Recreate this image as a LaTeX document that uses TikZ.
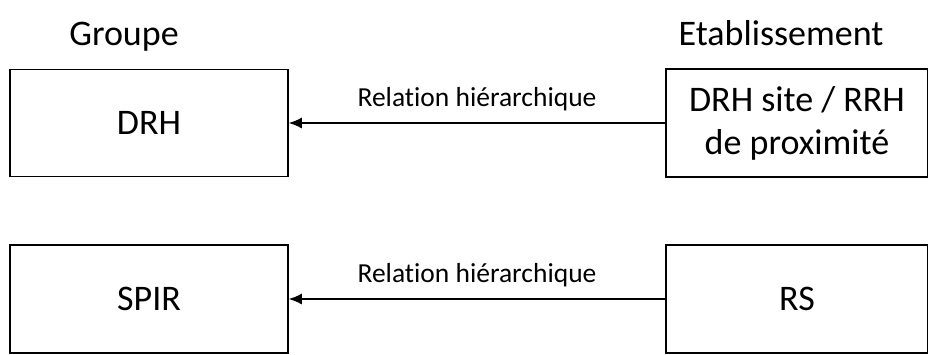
\documentclass[tikz,border=0pt]{standalone}
\usepackage{fontspec}
\setmainfont{Carlito}[Ligatures=NoCommon]
\usetikzlibrary{arrows.meta}

\begin{document}
\begin{tikzpicture}[x=1pt, y=-1pt,
  box/.style={draw, line width=1.6pt, inner sep=0pt, align=center,
    font=\fontsize{36}{43}\selectfont},
  head/.style={anchor=base, font=\fontsize{36}{43}\selectfont},
  rel/.style={font=\fontsize{27.5}{33}\selectfont}]

\useasboundingbox (0,0) rectangle (928,354);

% colonnes
\node[head] (groupe) at (124,45) {Groupe};
\node[head] (etab) at (781,45) {Etablissement};

% boites
\node[box, minimum width=278pt, minimum height=107pt] (drh) at (149,123) {DRH};
\node[box, minimum width=262pt, minimum height=108pt] (drhsite) at (797,123)
  {DRH site / RRH\\de proximit\'e};
\node[box, minimum width=278pt, minimum height=108pt] (spir) at (149,299) {SPIR};
\node[box, minimum width=262pt, minimum height=108pt] (rs) at (797,299) {RS};

% relations
\foreach \from/\to in {drhsite/drh, rs/spir}
{
  \draw[-{Latex[length=13pt, width=11pt]}, line width=1.4pt] (\from) -- (\to)
    node[rel, midway, above=8pt] {Relation hi\'erarchique};
}
\end{tikzpicture}
\end{document}
